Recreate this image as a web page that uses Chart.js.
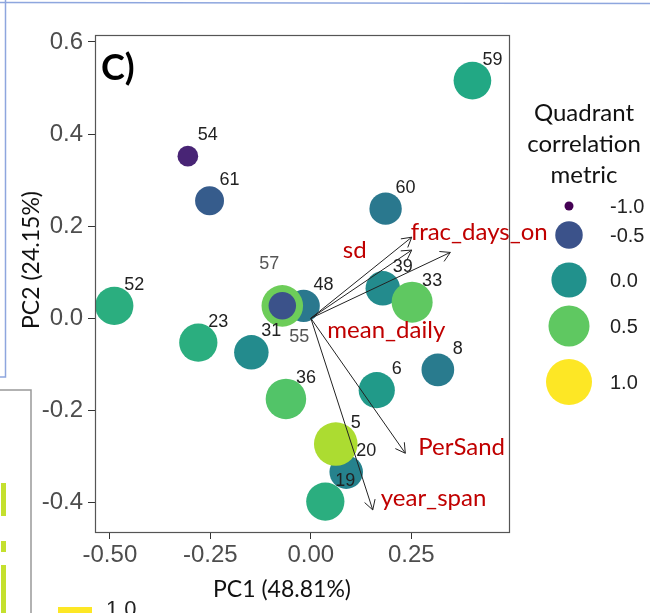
<!DOCTYPE html>
<html><head><meta charset="utf-8">
<script src="https://cdn.jsdelivr.net/npm/chart.js@4/dist/chart.umd.min.js"></script>
<style>html,body{margin:0;padding:0;background:#fff;overflow:hidden}#wrap{width:650px;height:613px;position:relative}</style>
</head><body><div id="wrap"><canvas id="c" width="650" height="613"></canvas></div>
<script>
// ---- data ----
const siteIds = ['59','54','61','60','52','23','31','48','57','55','39','33','8','6','36','19','20','5'];
const pc1 = [0.402,-0.306,-0.252,0.186,-0.489,-0.280,-0.148,-0.018,-0.071,-0.071,0.179,0.252,0.316,0.164,-0.062,0.036,0.088,0.062];
const pc2 = [0.516,0.352,0.255,0.238,0.027,-0.053,-0.074,0.027,0.027,0.027,0.065,0.035,-0.112,-0.156,-0.175,-0.398,-0.334,-0.273];
const metric = [0.2,-0.8,-0.42,-0.2,0.25,0.25,-0.05,-0.2,0.55,-0.5,-0.05,0.5,-0.18,0.08,0.45,0.25,-0.12,0.75];
const varNames = ['frac_days_on','sd','mean_daily','PerSand','year_span'];
const loadPC1 = [0.251,0.251,0.347,0.235,0.154];
const loadPC2 = [0.176,0.148,0.143,-0.293,-0.416];
const xTickVals = [-0.5,-0.25,0,0.25];
const yTickVals = [-0.4,-0.2,0,0.2,0.4,0.6];
const legendVals = [-1.0,-0.5,0.0,0.5,1.0];

// ---- styling helpers ----
const VIR = ['#440154','#482475','#414487','#355f8d','#2a788e','#21918c','#22a884','#44bf70','#7ad151','#bddf26','#fde725'];
function hex(h){return [parseInt(h.substr(1,2),16),parseInt(h.substr(3,2),16),parseInt(h.substr(5,2),16)];}
function viridis(t){
  t=Math.max(0,Math.min(1,t)); const p=t*10, i=Math.min(9,Math.floor(p)), f=p-i;
  const a=hex(VIR[i]), b=hex(VIR[i+1]);
  return 'rgb('+a.map((v,k)=>Math.round(v+(b[k]-v)*f)).join(',')+')';
}
function metricT(m){return (m+1)/2;}
function metricColor(m){return viridis(metricT(m));}
function metricRadius(m){return 4.5+18.5*Math.sqrt(metricT(m));}

const labelOffsets = {'57':[-13,-42],'55':[17,31]};
const labelGray = {'57':true,'55':true};
const varLabelPlace = {
  'frac_days_on':{dx:-1,dy:-5,align:'left'},
  'sd':{dx:-57,dy:0,align:'center'},
  'mean_daily':{dx:-64,dy:78,align:'center'},
  'PerSand':{dx:13,dy:-6,align:'left'},
  'year_span':{dx:8,dy:-12,align:'left'}
};
const TITLE_FONT = 'Lato, "Open Sans", sans-serif';
const NUM_FONT = '"Liberation Sans", Arial, sans-serif';

const points = pc1.map((x,i)=>({x:x,y:pc2[i]}));

const biplot = {
  id:'biplot',
  afterDatasetsDraw(chart){
    const ctx=chart.ctx, xs=chart.scales.x, ys=chart.scales.y;
    const ox=xs.getPixelForValue(0), oy=ys.getPixelForValue(0);
    ctx.save();
    // arrows
    ctx.strokeStyle='#222'; ctx.lineWidth=1;
    for(let i=0;i<varNames.length;i++){
      const tx=xs.getPixelForValue(loadPC1[i]), ty=ys.getPixelForValue(loadPC2[i]);
      ctx.beginPath(); ctx.moveTo(ox,oy); ctx.lineTo(tx,ty); ctx.stroke();
      const ang=Math.atan2(ty-oy,tx-ox), L=11, a=Math.PI/6;
      ctx.beginPath();
      ctx.moveTo(tx-L*Math.cos(ang-a),ty-L*Math.sin(ang-a));
      ctx.lineTo(tx,ty);
      ctx.lineTo(tx-L*Math.cos(ang+a),ty-L*Math.sin(ang+a));
      ctx.stroke();
    }
    // point labels
    ctx.font='18px '+NUM_FONT; ctx.textAlign='center'; ctx.textBaseline='middle';
    for(let i=0;i<siteIds.length;i++){
      const id=siteIds[i];
      const px=xs.getPixelForValue(pc1[i]), py=ys.getPixelForValue(pc2[i]);
      const off=labelOffsets[id]||[20,-21];
      ctx.fillStyle=labelGray[id]?'#555':'#222';
      ctx.fillText(id,px+off[0],py+off[1]);
    }
    // variable labels
    ctx.font='24px '+TITLE_FONT; ctx.fillStyle='#c00000'; ctx.textBaseline='middle';
    for(let i=0;i<varNames.length;i++){
      const tx=xs.getPixelForValue(loadPC1[i]), ty=ys.getPixelForValue(loadPC2[i]);
      const p=varLabelPlace[varNames[i]];
      ctx.textAlign=p.align;
      ctx.fillText(varNames[i],tx+p.dx,ty+p.dy);
    }
    ctx.restore();
  },
  afterDraw(chart){
    const ctx=chart.ctx, ca=chart.chartArea;
    ctx.save();
    // panel border
    ctx.strokeStyle='#555'; ctx.lineWidth=1.2;
    ctx.strokeRect(ca.left+0.5,ca.top+0.5,ca.right-ca.left,ca.bottom-ca.top);
    // panel tag
    ctx.fillStyle='#000'; ctx.font='bold 36px '+TITLE_FONT; ctx.textAlign='left'; ctx.textBaseline='alphabetic';
    ctx.fillText('C)',ca.left+6,80);
    // axis titles
    ctx.font='23px '+TITLE_FONT; ctx.fillStyle='#111'; ctx.textAlign='center'; ctx.textBaseline='middle';
    ctx.fillText('PC1 (48.81%)',282,590);
    ctx.save(); ctx.translate(32,260); ctx.rotate(-Math.PI/2); ctx.fillText('PC2 (24.15%)',0,0); ctx.restore();
    // legend
    ctx.fillStyle='#111'; ctx.font='24px '+TITLE_FONT;
    ctx.fillText('Quadrant',584,113);
    ctx.fillText('correlation',584,144);
    ctx.fillText('metric',584,175);
    const ly=[206,235,280,326,382];
    ctx.font='20px '+NUM_FONT; ctx.textAlign='left';
    legendVals.forEach((v,i)=>{
      ctx.beginPath(); ctx.fillStyle=metricColor(v);
      ctx.arc(569,ly[i],metricRadius(v),0,Math.PI*2); ctx.fill();
      ctx.fillStyle='#222'; ctx.fillText(v.toFixed(1),610,ly[i]+1);
    });
    // surrounding slide fragments
    ctx.strokeStyle='#8ea6de'; ctx.lineWidth=1.5;
    ctx.beginPath(); ctx.moveTo(0,2.5); ctx.lineTo(650,3.5); ctx.stroke();
    ctx.beginPath(); ctx.moveTo(5.5,0); ctx.lineTo(5.5,377); ctx.lineTo(0,377); ctx.stroke();
    ctx.strokeStyle='#999'; ctx.lineWidth=1.5;
    ctx.beginPath(); ctx.moveTo(0,390); ctx.lineTo(31,390); ctx.lineTo(31,613); ctx.stroke();
    ctx.fillStyle='#c4e02e';
    ctx.fillRect(1,483,5,33); ctx.fillRect(1,541,5,11); ctx.fillRect(1,565,5,48);
    ctx.fillStyle='#fde725'; ctx.fillRect(58,607,34,6);
    ctx.fillStyle='#222'; ctx.font='22px '+NUM_FONT; ctx.textBaseline='alphabetic'; ctx.textAlign='left';
    ctx.fillText('1.0',106,616);
    ctx.restore();
  }
};

new Chart(document.getElementById('c'),{
  type:'scatter',
  data:{datasets:[{
    data:points,
    pointRadius:c=>metricRadius(metric[c.dataIndex]),
    pointHoverRadius:c=>metricRadius(metric[c.dataIndex]),
    backgroundColor:c=>metricColor(metric[c.dataIndex]),
    borderWidth:0, pointBorderWidth:0
  }]},
  options:{
    responsive:false, animation:false, events:[],
    layout:{padding:{left:0,top:35,right:141,bottom:0}},
    plugins:{legend:{display:false},tooltip:{enabled:false}},
    scales:{
      x:{type:'linear',min:-0.537,max:0.493,
        afterBuildTicks:s=>{s.ticks=xTickVals.map(v=>({value:v}));},
        afterFit:s=>{s.height=81;},
        grid:{drawOnChartArea:false,drawTicks:true,tickLength:7,color:'#333'},
        border:{display:false},
        ticks:{color:'#4d4d4d',font:{family:NUM_FONT,size:24},padding:2,maxRotation:0,autoSkip:false,
          callback:v=>Number(v).toFixed(2)}},
      y:{type:'linear',min:-0.464,max:0.615,
        afterBuildTicks:s=>{s.ticks=yTickVals.map(v=>({value:v}));},
        afterFit:s=>{s.width=95;},
        grid:{drawOnChartArea:false,drawTicks:true,tickLength:7,color:'#333'},
        border:{display:false},
        ticks:{color:'#4d4d4d',font:{family:NUM_FONT,size:24},padding:5,autoSkip:false,
          callback:v=>Number(v).toFixed(1)}}
    }
  },
  plugins:[biplot]
});
</script></body></html>
